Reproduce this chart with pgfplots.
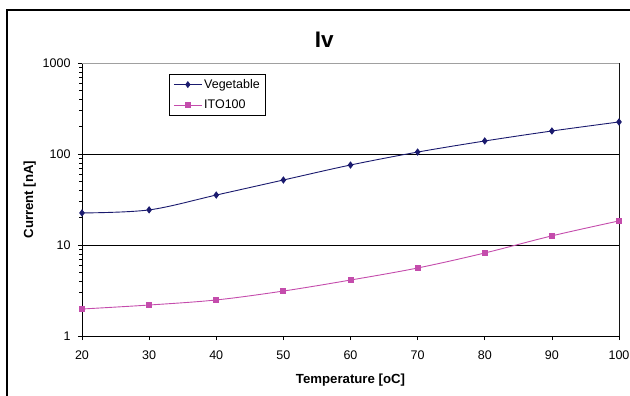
\documentclass[border=0pt]{standalone}
\usepackage{pgfplots}
\pgfplotsset{compat=1.18}
\usepackage{fontspec}
\setmainfont{Liberation Sans}
\definecolor{veg}{RGB}{26,26,110}
\definecolor{ito}{RGB}{196,76,172}
\definecolor{brd}{RGB}{160,160,160}
\begin{document}
\begin{tikzpicture}[x=1pt,y=1pt]
\useasboundingbox (0,0) rectangle (630,-396);
\draw[line width=1.2pt] (7,-400) -- (7,-10) -- (640,-10);
\begin{axis}[
  at={(82pt,-336pt)}, anchor=south west,
  scale only axis, width=537pt, height=273pt,
  ymode=log, ymin=1, ymax=1000,
  xmin=20, xmax=100,
  xtick={20,30,...,100},
  ytick={1,10,100,1000},
  yticklabels={1,10,100,1000},
  minor ytick={},
  ymajorgrids, grid style={black, line width=0.6pt},
  tick align=outside, tick pos=left,
  major tick length=4pt,
  tick style={black, line width=0.6pt},
  axis line style={line width=0.7pt},
  separate axis lines,
  every outer x axis line/.append style={black},
  every outer y axis line/.append style={black},
  /pgf/number format/assume math mode=true,
  ticklabel style={font=\fontsize{12.5}{14}\selectfont},
  xticklabel style={yshift=-7pt},
  yticklabel style={xshift=-4pt},
  xlabel={\bfseries Temperature [oC]},
  ylabel={\bfseries Current [nA]},
  label style={font=\fontsize{13.2}{15}\selectfont},
  xlabel style={yshift=-8pt},
  ylabel style={yshift=0pt},
  title={\bfseries Iv},
  title style={font=\fontsize{22.5}{26}\selectfont, at={(axis description cs:0.451,1)}, yshift=6pt},
  legend style={at={(axis cs:33,757)}, anchor=north west, draw=black, line width=0.6pt,
    font=\fontsize{12.5}{14}\selectfont, inner xsep=4pt, inner ysep=3pt, row sep=6pt, legend cell align=left},
  legend image code/.code={\draw[mark repeat=2, mark phase=2] plot coordinates {(0pt,0pt) (14pt,0pt) (28pt,0pt)};},
  legend image post style={line width=0.6pt},
]
\addplot[veg, line width=0.9pt, smooth, tension=0.55, mark=diamond*, mark size=3pt, mark options={solid, fill=veg}]
  coordinates {(20,22.5)(30,24.3)(40,35.4)(50,51.8)(60,75.7)(70,105)(80,139)(90,179)(100,225)};
\addlegendentry{Vegetable}
\addplot[ito, line width=0.9pt, smooth, tension=0.55, mark=square*, mark size=2.5pt, mark options={solid, fill=ito}]
  coordinates {(20,1.98)(30,2.19)(40,2.49)(50,3.12)(60,4.12)(70,5.59)(80,8.17)(90,12.6)(100,18.4)};
\addlegendentry{ITO100}
\draw[brd, line width=1pt] (rel axis cs:0,1) -- (rel axis cs:1,1) -- (rel axis cs:1,0);
\end{axis}
\end{tikzpicture}
\end{document}
